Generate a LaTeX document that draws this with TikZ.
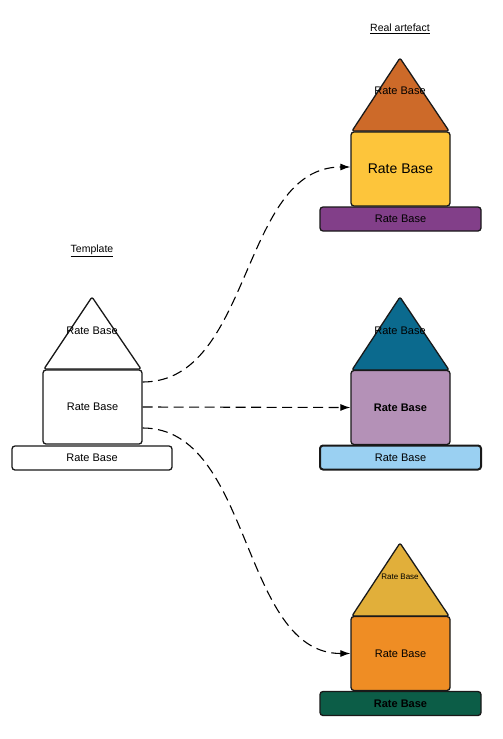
\documentclass[tikz,border=0pt]{standalone}
\usepackage{fontspec}
\setmainfont{Liberation Sans}
\usetikzlibrary{arrows.meta}
\definecolor{triA}{HTML}{CD6A29}
\definecolor{recA}{HTML}{FDC53B}
\definecolor{basA}{HTML}{823F89}
\definecolor{triB}{HTML}{0B6A8E}
\definecolor{recB}{HTML}{B491B7}
\definecolor{basB}{HTML}{9AD0F2}
\definecolor{triC}{HTML}{E1AF3A}
\definecolor{recC}{HTML}{EF8D24}
\definecolor{basC}{HTML}{0C5D47}
\begin{document}
\begin{tikzpicture}[x=1pt,y=-1pt,
  shapeline/.style={draw=black!90, line width=1.3pt, line join=round},
  boxnode/.style={shapeline, rounded corners=3pt, minimum width=99pt, minimum height=74pt, inner sep=0pt},
  basenode/.style={shapeline, rounded corners=3pt, minimum width=160pt, minimum height=24pt, inner sep=0pt},
  lbl/.style={font=\fontsize{11}{13}\selectfont, inner sep=0pt},
  title/.style={font=\fontsize{10.5}{12}\selectfont, inner sep=0pt},
  link/.style={draw=black, line width=1.1pt, dash pattern=on 10pt off 5.5pt, -{Latex[length=10pt,width=7pt]}}
]
\useasboundingbox (0,0) rectangle (503,739);
% titles
\node[title] (t1) at (400,29) {\underline{Real artefact}};
\node[title] (t2) at (92,251) {\underline{Template}};

% template
\draw[shapeline, fill=white, rounded corners=2pt] (44,369) -- (92,297) -- (141,369) -- cycle;
\node[boxnode, fill=white] (tr) at (92.5,407) {};
\node[lbl] at (tr) {Rate Base};
\node[basenode, fill=white] (tb) at (92,458) {};
\node[lbl] at (tb) {Rate Base};
\node[lbl] (tt) at (92,331) {Rate Base};

% real artefact A
\draw[shapeline, fill=triA, rounded corners=2pt] (352,131) -- (400,58) -- (449,131) -- cycle;
\node[lbl] (at) at (400,91) {Rate Base};
\node[boxnode, fill=recA] (ar) at (400.5,169) {};
\node[font=\fontsize{14}{16}\selectfont, inner sep=0pt] at (ar) {Rate Base};
\node[basenode, fill=basA, minimum width=161pt] (ab) at (400.5,219) {};
\node[lbl] at (ab) {Rate Base};

% real artefact B
\draw[shapeline, fill=triB, rounded corners=2pt] (352,370) -- (400,297) -- (449,370) -- cycle;
\node[lbl] (bt) at (400,331) {Rate Base};
\node[boxnode, fill=recB] (br) at (400.5,407.5) {};
\node[lbl, font=\fontsize{11}{13}\selectfont\bfseries] at (br) {Rate Base};
\node[basenode, fill=basB, minimum width=161pt, line width=2pt] (bb) at (400.5,457.5) {};
\node[lbl] at (bb) {Rate Base};

% real artefact C
\draw[shapeline, fill=triC, rounded corners=2pt] (352,616) -- (400,543) -- (449,616) -- cycle;
\node[font=\fontsize{8}{9}\selectfont, inner sep=0pt] (ct) at (400,577) {Rate Base};
\node[boxnode, fill=recC] (cr) at (400.5,653.5) {};
\node[lbl] at (cr) {Rate Base};
\node[basenode, fill=basC, minimum width=161pt] (cb) at (400.5,703.5) {};
\node[lbl, font=\fontsize{11}{13}\selectfont\bfseries] at (cb) {Rate Base};

% connectors
\draw[link] ([yshift=25pt]tr.east) .. controls +(110,0) and +(-110,0) .. ([yshift=2pt]ar.west);
\draw[link] (tr.east) -- (br.west);
\draw[link] ([yshift=-21pt]tr.east) .. controls +(110,0) and +(-110,0) .. (cr.west);
\end{tikzpicture}
\end{document}
